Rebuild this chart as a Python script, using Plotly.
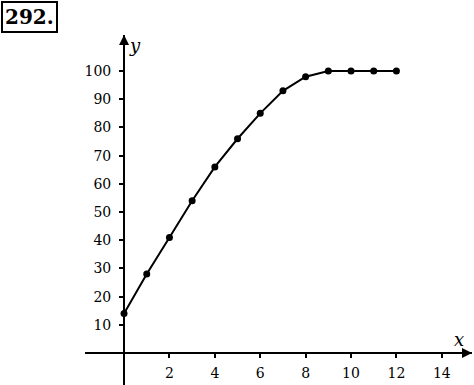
import plotly.graph_objects as go

x_vals = [0, 1, 2, 3, 4, 5, 6, 7, 8, 9, 10, 11, 12]
y_vals = [14, 28, 41, 54, 66, 76, 85, 93, 98, 100, 100, 100, 100]
x_ticks = [2, 4, 6, 8, 10, 12, 14]
y_ticks = [10, 20, 30, 40, 50, 60, 70, 80, 90, 100]

W, H = 474, 385
X_RANGE = [-1.72, 15.33]
Y_RANGE = [-11.35, 112.8]
x_dom = [85 / W, 472 / W]
y_dom = [0, (H - 35) / H]

def xfrac(v):
    return x_dom[0] + (v - X_RANGE[0]) / (X_RANGE[1] - X_RANGE[0]) * (x_dom[1] - x_dom[0])

def yfrac(v):
    return y_dom[0] + (v - Y_RANGE[0]) / (Y_RANGE[1] - Y_RANGE[0]) * (y_dom[1] - y_dom[0])

font = dict(family="DejaVu Serif", size=14, color="black")

fig = go.Figure()
fig.add_trace(go.Scatter(
    x=x_vals, y=y_vals, mode="lines+markers",
    line=dict(color="black", width=2),
    marker=dict(color="black", size=7),
    showlegend=False, cliponaxis=False,
))

fig.update_layout(
    width=W, height=H,
    margin=dict(l=0, r=0, t=0, b=0),
    paper_bgcolor="white", plot_bgcolor="white",
    xaxis=dict(
        range=X_RANGE, domain=x_dom, anchor="free", position=yfrac(0),
        showgrid=False, zeroline=False, showline=True, linecolor="black", linewidth=2,
        ticks="outside", ticklen=4, tickwidth=1.5, tickcolor="black",
        tickvals=x_ticks, ticktext=[str(t) for t in x_ticks],
        tickfont=font, ticklabelstandoff=3,
    ),
    yaxis=dict(
        range=Y_RANGE, domain=y_dom, anchor="free", position=xfrac(0),
        showgrid=False, zeroline=False, showline=True, linecolor="black", linewidth=2,
        ticks="outside", ticklen=4, tickwidth=1.5, tickcolor="black",
        tickvals=y_ticks, ticktext=[str(t) for t in y_ticks],
        tickfont=font, ticklabelstandoff=5,
    ),
    annotations=[
        dict(x=X_RANGE[1], y=0, xref="x", yref="y", ax=-14, ay=0, showarrow=True,
             arrowhead=2, arrowsize=1, arrowwidth=2, arrowcolor="black", text=""),
        dict(x=0, y=Y_RANGE[1], xref="x", yref="y", ax=0, ay=14, showarrow=True,
             arrowhead=2, arrowsize=1, arrowwidth=2, arrowcolor="black", text=""),
        dict(x=X_RANGE[1], y=0, xref="x", yref="y", text="<i>x</i>", showarrow=False,
             xanchor="right", yanchor="bottom", xshift=-6, yshift=1,
             font=dict(family="DejaVu Serif", size=18, color="black")),
        dict(x=0, y=Y_RANGE[1], xref="x", yref="y", text="<i>y</i>", showarrow=False,
             xanchor="left", yanchor="top", xshift=3, yshift=2,
             font=dict(family="DejaVu Serif", size=18, color="black")),
        dict(x=0.003, y=0.997, xref="paper", yref="paper", text="<b>292.</b>",
             showarrow=False, xanchor="left", yanchor="top",
             bordercolor="black", borderwidth=2, borderpad=2,
             font=dict(family="DejaVu Serif", size=20, color="black")),
    ],
)

fig.write_html(
    "out.html",
    config={"displayModeBar": False},
    post_script="document.body.style.margin='0';document.body.style.overflow='hidden';",
)
